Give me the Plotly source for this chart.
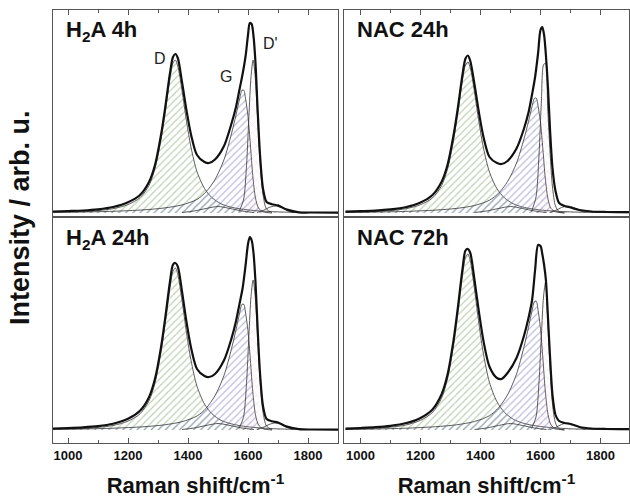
import plotly.graph_objects as go

# ---------------- data (heights above baseline, arbitrary units) ----------------
total_x = [950,1000,1050,1100,1150,1200,1240,1270,1290,1310,1325,1340,1350,1358,1366,1380,1395,1410,1430,1455,1470,1490,1520,1545,1560,1572,1582,1592,1600,1606,1612,1618,1625,1632,1640,1650,1662,1680,1700,1730,1770,1820,1900]
d_x = [950,1000,1050,1100,1150,1200,1240,1270,1290,1310,1325,1340,1350,1358,1366,1380,1395,1410,1430,1455,1480,1510,1540,1570,1600,1640,1700,1800,1900]
g_x = [950,1050,1150,1250,1320,1380,1430,1460,1490,1520,1545,1560,1572,1580,1586,1592,1600,1608,1616,1625,1635,1650,1680]
dp_x = [1570,1585,1595,1603,1610,1617,1624,1632,1640,1650,1662,1680]
d3_x = [1380,1420,1460,1500,1540,1580,1620]
d2_x = [1630,1650,1670,1690,1710,1730,1750]

panel_titles = ["H<sub>2</sub>A 4h", "NAC 24h", "H<sub>2</sub>A 24h", "NAC 72h"]

# H2A 4h
h2a4_total = [1.5,2,2.5,3.7,6,10.7,18,31,48,78,107.5,140,156,159,155,131,102.5,78.6,58,51,50,53.5,67,89.5,106,124,139,157,178,190,189,178,150,104,58.5,24.4,11,8.8,7.6,3.4,0.7,0.5,0.3]
h2a4_d = [0.8,1.1,1.5,2.4,4.3,8.4,15.3,27.5,44.4,73.4,102.5,134.6,149.9,153,146.9,122.4,91.8,65.8,41.3,24.5,15.3,9.2,6.1,4.3,3.1,2.0,1.1,0.5,0.3]
h2a4_g = [0.5,1.0,1.7,3.1,5.0,8.1,13.6,21.1,33.5,53.3,79.4,98,114.1,122.8,122.8,114.1,96.7,68.2,37.2,14.9,5.0,1.2,0]
h2a4_dp = [1.5,13,47.4,96.4,136.2,153,136.2,94.9,52,18.4,3.8,0.5]

# NAC 24h
nac24_total = [1.3,1.8,2.4,3.6,5.8,10.5,18,31,48,77.5,106,138.5,154.5,157.5,152,128.5,100,76,56,50,49,52,64.4,84.5,100.4,118.8,136,160,183,186,178,158,125,82,45,22,10,7,5.5,3,1.5,1,0.8]
nac24_d = [0.8,1.1,1.5,2.4,4.2,8.3,15.1,27.2,43.8,72.5,101.2,132.9,148,151,145,120.8,90.6,64.9,40.8,24.2,15.1,9.1,6.0,4.2,3.0,2.0,1.1,0.5,0.3]
nac24_g = [0.5,0.9,1.6,2.9,4.6,7.5,12.8,19.7,31.3,49.9,74.2,91.6,106.7,114.8,114.8,106.7,90.5,63.8,34.8,13.9,4.6,1.2,0]
nac24_dp = [1.5,16,58,112,148,150,105,60,26,7,1.2,0.2]

# H2A 24h
h2a24_total = [1.5,2,2.7,3.9,6.3,11.2,19.2,32.8,51.2,82.6,114,148.5,165.4,167,163.5,138.6,108,82.5,61,54,53,56,69.7,91.6,108.8,126.6,141.7,165,186,193,190,178,148,102,57,24,11,8.7,7.5,3.4,0.8,0.5,0.3]
h2a24_d = [0.8,1.1,1.6,2.6,4.5,8.9,16.2,29.2,47.0,77.8,108.5,142.6,158.8,162,155.5,129.6,97.2,69.7,43.7,25.9,16.2,9.7,6.5,4.5,3.2,2.1,1.1,0.5,0.3]
h2a24_g = [0.5,1.0,1.8,3.2,5.1,8.3,14.0,21.6,34.3,54.6,81.3,100.3,116.8,125.7,125.7,116.8,99.1,69.9,38.1,15.2,5.1,1.3,0]
h2a24_dp = [1.5,12.8,46.5,94.5,133.5,150,133.5,93,51,18,3.8,0.5]

# NAC 72h
nac72_total = [1.4,2,2.8,4.2,6.7,12.1,20.6,35.5,55.2,89.3,123.4,161,179.5,181,177,150,117.5,88.9,63.3,52,51,57,72,94.3,112,130,160,185,184,176,165,150,112,72,35,15,9,7,6,3,1.5,1,0.8]
nac72_d = [0.9,1.2,1.8,2.8,4.9,9.7,17.6,31.7,51.0,84.5,117.9,154.9,172.5,176,169,140.8,105.6,75.7,47.5,28.2,17.6,10.6,7.0,4.9,3.5,2.3,1.2,0.5,0.4]
nac72_g = [0.5,1.0,1.8,3.3,5.2,8.5,14.3,22.1,35.1,55.9,83.2,102.7,119.6,128.7,128.7,119.6,101.4,71.5,39,15.6,5.2,1.3,0]
nac72_dp = [1.5,13,48,95,133,148,110,62,26,7,1.2,0.2]

# small bands (same in every panel)
d3_vals = [0.5,2,4.5,6.5,4.5,2,0.5]
d2_vals = [0.5,2.5,5.5,7,5.5,2.5,0.5]

panels = [
    (h2a4_total, h2a4_d, h2a4_g, h2a4_dp),
    (nac24_total, nac24_d, nac24_g, nac24_dp),
    (h2a24_total, h2a24_d, h2a24_g, h2a24_dp),
    (nac72_total, nac72_d, nac72_g, nac72_dp),
]

# ---------------- layout geometry ----------------
W, H = 630, 498
x_dom = [[53 / W, 338 / W], [344 / W, 629 / W]]
y_dom = [[(H - 217) / H, (H - 10) / H], [(H - 443) / H, (H - 217) / H]]
x_ranges = [[950, 1900], [945, 1895]]
y_ranges = [[-4, 203], [-13, 213]]
FONT = "Arial, Liberation Sans, sans-serif"

fig = go.Figure()
thin = dict(color="#333333", width=0.8, shape="spline", smoothing=0.8)

for i, (tot, dd, gg, dp) in enumerate(panels):
    row, col = divmod(i, 2)
    ax = "" if i == 0 else str(i + 1)
    xref, yref = "x" + ax, "y" + ax
    common = dict(xaxis=xref, yaxis=yref, showlegend=False, hoverinfo="skip")
    fig.add_trace(go.Scatter(x=d_x, y=dd, mode="lines", line=thin, fill="tozeroy",
                             fillcolor="rgba(0,0,0,0)",
                             fillpattern=dict(shape="/", fgcolor="rgba(110,155,90,0.95)",
                                              bgcolor="rgba(255,255,255,0)", size=5, solidity=0.22),
                             **common))
    fig.add_trace(go.Scatter(x=g_x, y=gg, mode="lines", line=thin, fill="tozeroy",
                             fillcolor="rgba(0,0,0,0)",
                             fillpattern=dict(shape="/", fgcolor="rgba(105,105,185,0.95)",
                                              bgcolor="rgba(255,255,255,0)", size=5, solidity=0.22),
                             **common))
    fig.add_trace(go.Scatter(x=dp_x, y=dp, mode="lines", line=thin, fill="tozeroy",
                             fillcolor="rgba(0,0,0,0)",
                             fillpattern=dict(shape="x", fgcolor="rgba(230,120,175,0.85)",
                                              bgcolor="rgba(255,255,255,0)", size=6, solidity=0.12),
                             **common))
    fig.add_trace(go.Scatter(x=d3_x, y=d3_vals, mode="lines", line=thin, **common))
    fig.add_trace(go.Scatter(x=d2_x, y=d2_vals, mode="lines", line=thin, **common))
    fig.add_trace(go.Scatter(x=total_x, y=tot, mode="lines",
                             line=dict(color="#111111", width=2.2, shape="spline", smoothing=0.8),
                             **common))

    xa = dict(domain=x_dom[col], range=x_ranges[col], showgrid=False, zeroline=False,
              showline=True, linecolor="#555555", linewidth=1.2, mirror=True,
              ticks="inside", ticklen=5, tickwidth=1, tickcolor="#555555",
              tick0=1000, dtick=200,
              minor=dict(ticks="inside", ticklen=3, dtick=100, tickcolor="#555555"),
              anchor=yref,
              tickfont=dict(family=FONT, size=13, color="#111", weight="bold"))
    if row == 0:
        xa.update(side="top", showticklabels=False)
    else:
        xa.update(side="bottom", showticklabels=True,
                  title=dict(text="Raman shift/cm<sup>-1</sup>",
                             font=dict(family=FONT, size=22, color="#111", weight="bold"),
                             standoff=21))
    ya = dict(domain=y_dom[row], range=y_ranges[row], showgrid=False, zeroline=False,
              showline=True, linecolor="#555555", linewidth=1.2, mirror=True,
              ticks="", showticklabels=False, anchor=xref)
    fig.layout["xaxis" + ax] = xa
    fig.layout["yaxis" + ax] = ya

    fig.add_annotation(xref=xref + " domain", yref=yref + " domain", x=0.04, y=0.975,
                       xanchor="left", yanchor="top", showarrow=False,
                       text=panel_titles[i],
                       font=dict(family=FONT, size=22, color="#111", weight="bold"))

# band labels in first panel
for lbl, xv, yv in [("D", 1305, 155), ("G", 1525, 137), ("D'", 1675, 170)]:
    fig.add_annotation(xref="x", yref="y", x=xv, y=yv, text=lbl, showarrow=False,
                       font=dict(family=FONT, size=16, color="#222"))

fig.add_annotation(xref="paper", yref="paper", x=20 / W, y=(H - 218) / H, textangle=-90,
                   xanchor="center", yanchor="middle",
                   text="Intensity / arb. u.", showarrow=False,
                   font=dict(family=FONT, size=27, color="#111", weight="bold"))

fig.update_layout(width=W, height=H, margin=dict(l=0, r=0, t=0, b=0),
                  paper_bgcolor="white", plot_bgcolor="white")
fig.write_html("out.html", config={"displayModeBar": False},
               post_script="document.body.style.margin='0px';document.body.style.overflow='hidden';")
